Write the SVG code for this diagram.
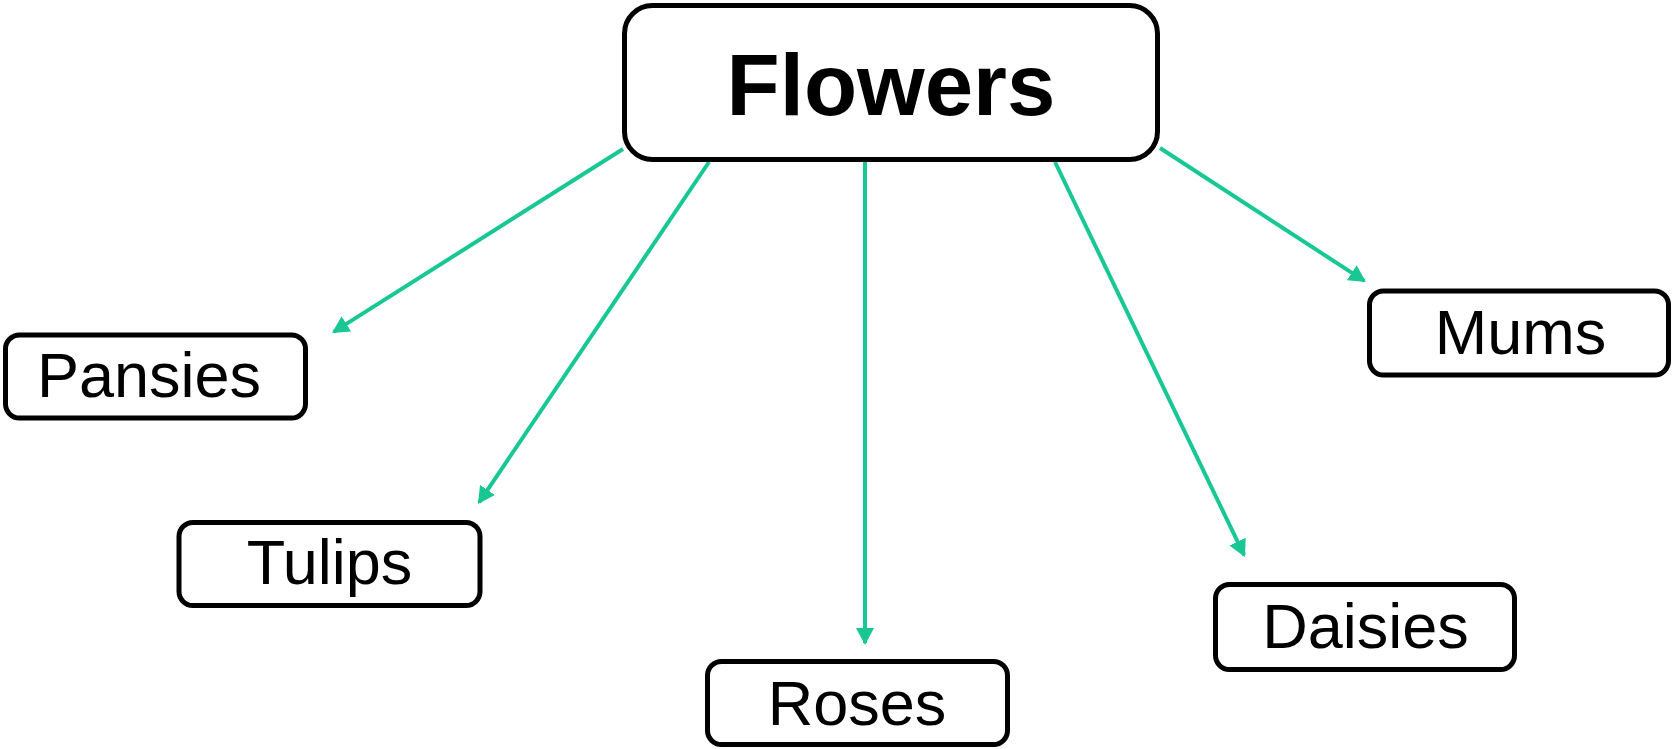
<svg xmlns="http://www.w3.org/2000/svg" width="1673" height="749" viewBox="0 0 1673 749">
  <style>
    .box { fill: #ffffff; stroke: #000000; stroke-width: 5; }
    .label { font-family: "Liberation Sans", Arial, sans-serif; font-size: 63px; fill: #000000; text-anchor: middle; }
    .title { font-size: 87px; font-weight: bold; }
    .link { stroke: #19C795; stroke-width: 4; fill: none; marker-end: url(#head); }
  </style>
  <defs>
    <!-- filled arrowhead; tip sits exactly on the line end -->
    <marker id="head" viewBox="0 0 17 18" refX="15" refY="9" markerWidth="17" markerHeight="18" markerUnits="userSpaceOnUse" orient="auto">
      <path d="M0,0 L17,9 L0,18 z" fill="#19C795"/>
    </marker>
  </defs>
  <rect width="1673" height="749" fill="#ffffff"/>

  <!-- connectors from the central node -->
  <g id="connectors">
    <line class="link" x1="623" y1="149" x2="333.7" y2="331.9"/>
    <line class="link" x1="709" y1="162" x2="479.1" y2="502.3"/>
    <line class="link" x1="865" y1="162" x2="865" y2="643"/>
    <line class="link" x1="1055" y1="162" x2="1244.1" y2="555.2"/>
    <line class="link" x1="1160" y1="148" x2="1364.3" y2="280.9"/>
  </g>

  <g id="flowers">
    <rect class="box" x="624.5" y="5.5" width="533" height="154" rx="28"/>
    <text class="label title" x="891" y="115">Flowers</text>
  </g>

  <g id="pansies">
    <rect class="box" x="5.5" y="335" width="300" height="83" rx="14"/>
    <text class="label" x="149" y="397">Pansies</text>
  </g>

  <g id="tulips">
    <rect class="box" x="179" y="522.5" width="301" height="83" rx="14"/>
    <text class="label" x="329.5" y="584">Tulips</text>
  </g>

  <g id="roses">
    <rect class="box" x="707.5" y="661.5" width="300" height="83" rx="14"/>
    <text class="label" x="857" y="725">Roses</text>
  </g>

  <g id="daisies">
    <rect class="box" x="1215.5" y="584.5" width="299" height="85" rx="14"/>
    <text class="label" x="1365.5" y="648">Daisies</text>
  </g>

  <g id="mums">
    <rect class="box" x="1369.5" y="291" width="299" height="84" rx="14"/>
    <text class="label" x="1520.5" y="354">Mums</text>
  </g>
</svg>
